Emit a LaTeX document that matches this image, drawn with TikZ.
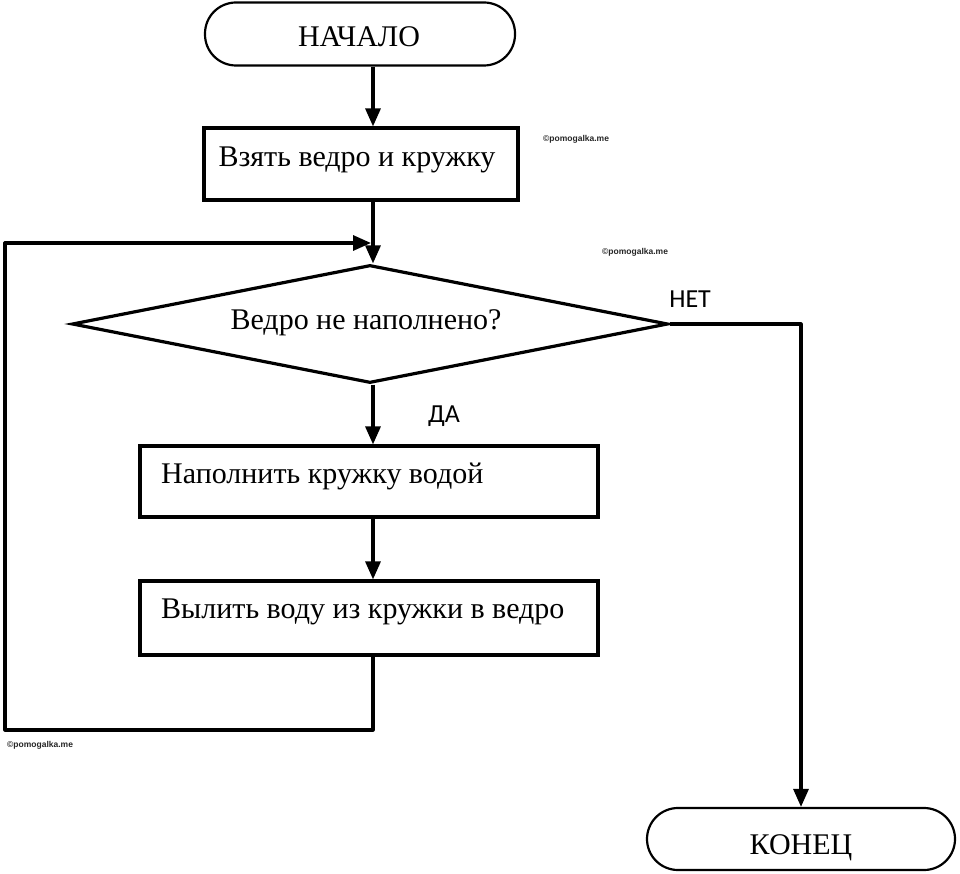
\documentclass[tikz,border=0pt]{standalone}
\usepackage{fontspec}
\setmainfont{Liberation Serif}
\newfontfamily\lblfont{Carlito}
\newfontfamily\wmfont{Liberation Sans}
\usetikzlibrary{arrows.meta,shapes.geometric}
\begin{document}
\begin{tikzpicture}[x=1pt,y=-1pt,
  line/.style={line width=3.2pt},
  arr/.style={line, -{Triangle[length=18pt,width=15pt]}},
  term/.style={draw, line width=2.2pt, rounded corners=31pt, minimum width=310pt, minimum height=63pt, inner sep=0pt},
  proc/.style={draw, line width=3.2pt, inner sep=0pt},
  txt/.style={font=\fontsize{30}{36}\selectfont, inner sep=0pt},
  yn/.style={font=\lblfont\fontsize{26}{30}\selectfont, inner sep=0pt},
  wm/.style={font=\wmfont\bfseries\fontsize{8.5}{10}\selectfont, inner sep=0pt, text=black!85}]
\useasboundingbox[fill=white] (0,0) rectangle (960,874);

% shapes
\node[term] (start) at (360,34) {};
\node[proc, minimum width=314pt, minimum height=72pt] (b1) at (361,164) {};
\node[diamond, draw, line width=3.2pt, inner sep=0pt, minimum width=596pt, minimum height=118pt] (dec) at (370,324) {};
\node[proc, minimum width=458pt, minimum height=71pt] (b2) at (369,481.5) {};
\node[proc, minimum width=458pt, minimum height=74pt] (b3) at (369,618) {};
\node[term, minimum width=308pt, minimum height=62pt] (end) at (801,839) {};

% texts
\node[txt, anchor=base] (tstart) at (359,47) {НАЧАЛО};
\node[txt, anchor=base] (tb1) at (357,167) {Взять ведро и кружку};
\node[txt, anchor=base] (tdec) at (366,329) {Ведро не наполнено?};
\node[txt, anchor=base west] (tb2) at (161,483) {Наполнить кружку водой};
\node[txt, anchor=base west] (tb3) at (161,618) {Вылить воду из кружки в ведро};
\node[txt, anchor=base] (tend) at (801,854) {КОНЕЦ};
\node[yn, anchor=base] (tno) at (690,308) {НЕТ};
\node[yn, anchor=base] (tyes) at (444,422) {ДА};

% watermarks
\node[wm, anchor=west] (wm1) at (543,139) {©pomogalka.me};
\node[wm, anchor=west] (wm2) at (602,252) {©pomogalka.me};
\node[wm, anchor=west] (wm3) at (7,745) {©pomogalka.me};

% connectors
\coordinate (spine) at (373,0);
\coordinate (lb) at (5,730);
\coordinate (lt) at (5,243);
\coordinate (lj) at (371,243);
\draw[arr] (start.south -| spine) -- (b1.north -| spine);
\draw[arr] (b1.south -| spine) -- (dec.north -| spine);
\draw[arr] (dec.south -| spine) -- (b2.north -| spine);
\draw[arr] (b2.south -| spine) -- (b3.north -| spine);
\draw[arr, line join=round] (b3.south -| spine) |- (lb) -- (lt) -- (lj);
\draw[arr, line join=round] (dec.east) -| (end.north);
\end{tikzpicture}
\end{document}
